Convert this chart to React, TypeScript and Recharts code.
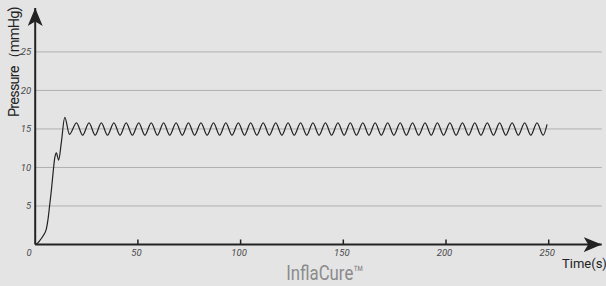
import { LineChart, Line, XAxis, YAxis, ReferenceLine, Customized } from "recharts";

// time (s) and pressure (mmHg): ramp-up, overshoot, then the ripple
const time = [
  0, 1, 2.2, 3.8, 5.4, 6.2, 7.0, 7.9, 8.7, 9.5, 10.3, 11.4, 12.7, 14.4, 16.7,
  20.1, 23.1, 26.2, 29.2, 32.2, 35.2, 38.3, 41.3, 44.3, 47.3,
  50.4, 53.4, 56.5, 59.5, 62.5, 65.5, 68.6, 71.6, 74.6, 77.6,
  80.7, 83.7, 86.8, 89.8, 92.8, 95.8, 98.9, 101.9, 104.9, 107.9,
  111.0, 114.0, 117.1, 120.1, 123.1, 126.1, 129.2, 132.2, 135.2, 138.2,
  141.3, 144.3, 147.4, 150.4, 153.4, 156.4, 159.5, 162.5, 165.5, 168.5,
  171.6, 174.6, 177.7, 180.7, 183.7, 186.7, 189.8, 192.8, 195.8, 198.8,
  201.9, 204.9, 208.0, 211.0, 214.0, 217.0, 220.1, 223.1, 226.1, 229.1,
  232.2, 235.2, 238.3, 241.3, 244.3, 247.3, 249.2,
];

const pressure = [
  0, 0.15, 0.5, 1.1, 2.0, 3.2, 5.0, 7.1, 9.3, 11.2, 11.9, 10.95, 13.2, 16.5, 14.3,
  15.8, 14.2, 15.8, 14.2, 15.8, 14.2, 15.8, 14.2, 15.8, 14.2,
  15.8, 14.2, 15.8, 14.2, 15.8, 14.2, 15.8, 14.2, 15.8, 14.2,
  15.8, 14.2, 15.8, 14.2, 15.8, 14.2, 15.8, 14.2, 15.8, 14.2,
  15.8, 14.2, 15.8, 14.2, 15.8, 14.2, 15.8, 14.2, 15.8, 14.2,
  15.8, 14.2, 15.8, 14.2, 15.8, 14.2, 15.8, 14.2, 15.8, 14.2,
  15.8, 14.2, 15.8, 14.2, 15.8, 14.2, 15.8, 14.2, 15.8, 14.2,
  15.8, 14.2, 15.8, 14.2, 15.8, 14.2, 15.8, 14.2, 15.8, 14.2,
  15.8, 14.2, 15.8, 14.2, 15.8, 14.2, 15.6,
];

const xTicks = [0, 50, 100, 150, 200, 250];
const yTicks = [5, 10, 15, 20, 25];

const data = time.map((t, i) => ({ t, p: pressure[i] }));

const XTick = ({ x, y, payload }: any) => (
  <g>
    {payload.value !== 0 && (
      <line x1={x} x2={x} y1={y - 5} y2={y} stroke="#222" strokeWidth={1.5} />
    )}
    <text
      x={x + (payload.value === 0 ? -6 : -1.5)}
      y={y + 11.5}
      textAnchor="middle"
      fontFamily="Roboto"
      fontStyle="italic"
      fontSize={9.5}
      fill="#4a4a4a"
    >
      {payload.value}
    </text>
  </g>
);

const Extras = () => (
  <g>
    <defs>
      <marker
        id="arrow"
        markerUnits="userSpaceOnUse"
        markerWidth={18}
        markerHeight={15}
        viewBox="0 0 18 15"
        refX={18}
        refY={7.5}
        orient="auto-start-reverse"
      >
        <path d="M0,0 L18,7.5 L0,15 L4.5,7.5 Z" fill="#222" />
      </marker>
    </defs>
    <text
      transform="translate(18.5, 117) rotate(-90)"
      fontFamily="Roboto"
      fontSize={14.5}
      letterSpacing={-0.8}
      fill="#222"
    >
      Pressure（mmHg)
    </text>
    <text x={562} y={268} fontFamily="Roboto" fontSize={13} fill="#222">
      Time(s)
    </text>
    <text
      transform="translate(325, 280) scale(0.84, 1)"
      textAnchor="middle"
      fontFamily="Roboto"
      fontSize={20}
      fill="#8a8a8a"
    >
      InflaCure™
    </text>
  </g>
);

export default function App() {
  return (
    <div style={{ position: "absolute", left: 0, top: 0, width: 606, height: 286, background: "#e4e4e5" }}>
      <LineChart
        width={606}
        height={286}
        data={data}
        margin={{ top: 8, right: 4.3, left: 0, bottom: 0 }}
      >
        {yTicks.map((v) => (
          <ReferenceLine key={v} y={v} stroke="#b0b0b0" strokeWidth={1} />
        ))}
        <XAxis
          dataKey="t"
          type="number"
          domain={[0, 275.8]}
          ticks={xTicks}
          allowDataOverflow
          height={41.5}
          tickSize={0}
          tickMargin={0}
          tickLine={false}
          tick={<XTick />}
          interval={0}
          axisLine={{ stroke: "#222", strokeWidth: 2, markerEnd: "url(#arrow)" }}
        />
        <YAxis
          type="number"
          domain={[0, 30.7]}
          ticks={yTicks}
          allowDataOverflow
          width={35.2}
          tickSize={0}
          tickMargin={4}
          tickLine={false}
          interval={0}
          tick={{ fontFamily: "Roboto", fontStyle: "italic", fontSize: 9.5, fill: "#4a4a4a" }}
          axisLine={{ stroke: "#222", strokeWidth: 2, markerStart: "url(#arrow)" }}
        />
        <Line
          dataKey="p"
          type="monotone"
          stroke="#222"
          strokeWidth={1.2}
          dot={false}
          activeDot={false}
          isAnimationActive={false}
        />
        <Customized component={<Extras />} />
      </LineChart>
    </div>
  );
}
